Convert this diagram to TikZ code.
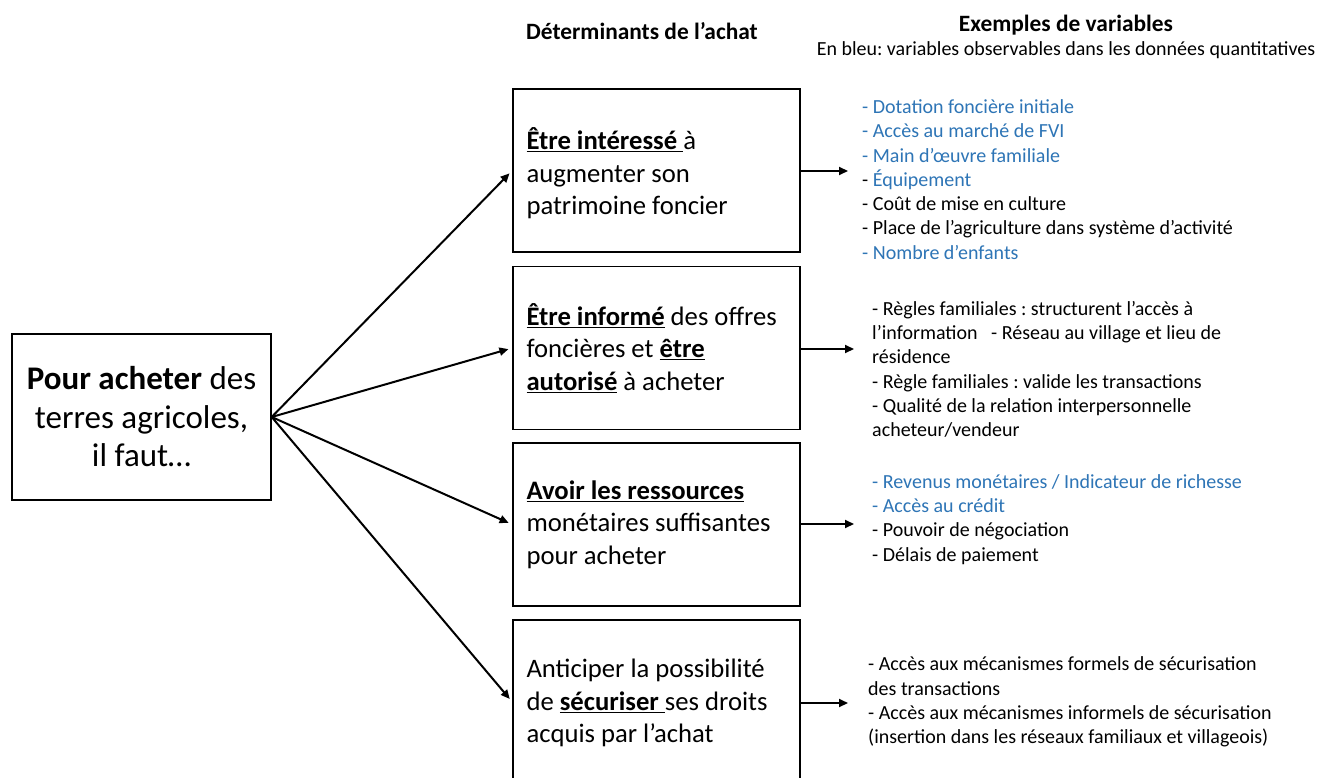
\documentclass[tikz,border=0pt]{standalone}
\usepackage{fontspec}
\setmainfont{Carlito}
\usetikzlibrary{arrows.meta}
\definecolor{varblue}{RGB}{46,117,182}
\frenchspacing
\tikzset{
  box/.style={draw=black, line width=1.4pt, minimum width=287pt, minimum height=163pt, inner sep=0pt},
  boxtext/.style={anchor=west, inner sep=0pt, align=flush left, font=\fontsize{26.67}{32.5}\selectfont},
  mainbox/.style={draw=black, line width=1.4pt, minimum width=259pt, minimum height=166pt,
    align=center, font=\fontsize{33}{38.5}\selectfont},
  arr/.style={line width=2pt, -{Triangle[length=9pt,width=8pt]}},
  vlist/.style={anchor=west, inner sep=0pt, align=flush left, font=\fontsize{20}{24.3}\selectfont},
  head/.style={font=\bfseries\fontsize{23.4}{27}\selectfont, inner sep=0pt},
}
\begin{document}
\begin{tikzpicture}[x=1pt,y=-1pt]
\useasboundingbox[fill=white] (0,0) rectangle (1319,778);

\node[head] (h1) at (642,31) {Déterminants de l’achat};
\node[head] (h2) at (1066,25) {Exemples de variables};
\node[inner sep=0pt, font=\fontsize{20}{24}\selectfont] (h3) at (1066,50) {En bleu: variables observables dans les données quantitatives};

\node[mainbox] (L) at (141.5,417) {\textbf{Pour acheter} des\\terres agricoles,\\il faut…};

\node[box] (B1) at (656.5,170.5) {};
\node[box] (B2) at (656.5,348) {};
\node[box] (B3) at (656.5,524.5) {};
\node[box, minimum height=164pt] (B4) at (656.5,702) {};

\node[boxtext] (T1) at ([xshift=14pt,yshift=-3pt]B1.west) {\underline{\textbf{Être intéressé}\ }à\\augmenter son\\patrimoine foncier};
\node[boxtext] (T2) at ([xshift=14pt]B2.west) {\underline{\textbf{Être informé}} des offres\\foncières et \underline{\textbf{être}}\\\underline{\textbf{autorisé}} à acheter};
\node[boxtext] (T3) at ([xshift=14pt]B3.west) {\underline{\textbf{Avoir les ressources}}\\monétaires suffisantes\\pour acheter};
\node[boxtext] (T4) at ([xshift=14pt,yshift=-1pt]B4.west) {Anticiper la possibilité\\de \underline{\textbf{sécuriser}\ }ses droits\\acquis par l’achat};

\foreach \b in {B1,B2,B3,B4}
  \draw[arr, shorten >=4pt] (L.east) -- (\b.west);

\node[vlist] (V1) at (862,179.5) {%
  \textcolor{varblue}{- Dotation foncière initiale}\\
  \textcolor{varblue}{- Accès au marché de FVI}\\
  \textcolor{varblue}{- Main d’œuvre familiale}\\
  - \textcolor{varblue}{Équipement}\\
  - Coût de mise en culture\\
  - Place de l’agriculture dans système d’activité\\
  \textcolor{varblue}{- Nombre d’enfants}};
\node[vlist] (V2) at (872,369.5) {%
  - Règles familiales : structurent l’accès à\\
  l’information\ \ \ - Réseau au village et lieu de\\
  résidence\\
  - Règle familiales : valide les transactions\\
  - Qualité de la relation interpersonnelle\\
  acheteur/vendeur};
\node[vlist] (V3) at (872,519.5) {%
  \textcolor{varblue}{- Revenus monétaires / Indicateur de richesse}\\
  \textcolor{varblue}{- Accès au crédit}\\
  - Pouvoir de négociation\\
  - Délais de paiement};
\node[vlist] (V4) at (868,702) {%
  - Accès aux mécanismes formels de sécurisation\\
  des transactions\\
  - Accès aux mécanismes informels de sécurisation\\
  (insertion dans les réseaux familiaux et villageois)};

\coordinate (t1) at (848,171);
\coordinate (t2) at (854,349);
\coordinate (t3) at (854,524);
\coordinate (t4) at (848,703);
\draw[arr] (B1.east |- t1) -- (t1);
\draw[arr] (B2.east |- t2) -- (t2);
\draw[arr] (B3.east |- t3) -- (t3);
\draw[arr] (B4.east |- t4) -- (t4);
\end{tikzpicture}
\end{document}
